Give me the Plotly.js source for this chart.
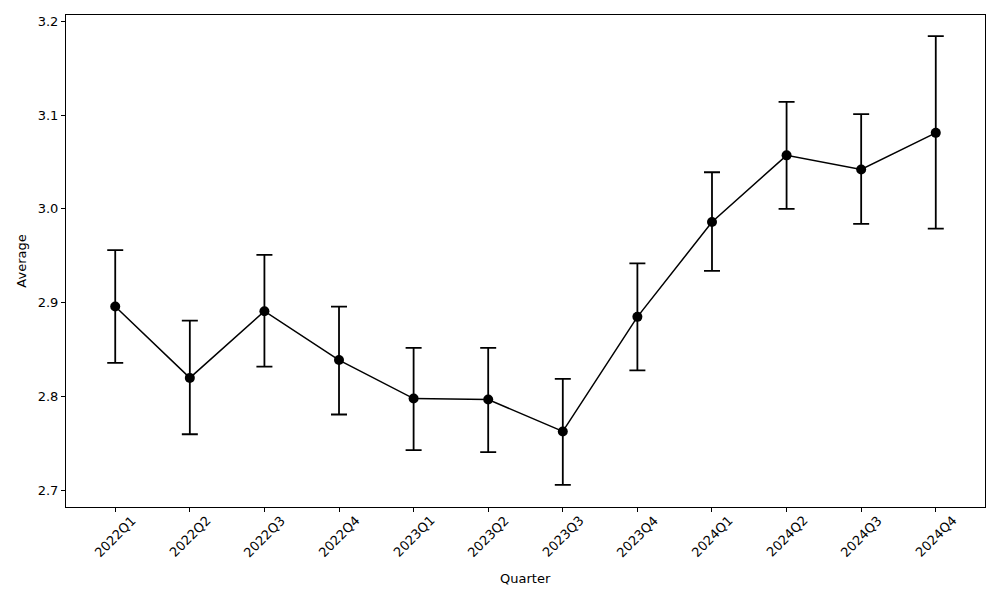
<!DOCTYPE html>
<html>
<head>
<meta charset="utf-8">
<script src="https://cdn.plot.ly/plotly-3.0.1.min.js"></script>
<style>html,body{margin:0;padding:0;background:#fff;}#chart{width:1000px;height:600px;}</style>
</head>
<body>
<div id="chart"></div>
<script>
const quarters = ["2022Q1","2022Q2","2022Q3","2022Q4","2023Q1","2023Q2","2023Q3","2023Q4","2024Q1","2024Q2","2024Q3","2024Q4"];
const averages = [2.896, 2.820, 2.891, 2.839, 2.798, 2.797, 2.763, 2.885, 2.986, 3.057, 3.042, 3.081];
const upperBounds = [2.956, 2.881, 2.951, 2.896, 2.852, 2.852, 2.819, 2.942, 3.039, 3.114, 3.101, 3.184];
const lowerBounds = [2.836, 2.760, 2.832, 2.781, 2.743, 2.741, 2.706, 2.828, 2.934, 3.000, 2.984, 2.979];

const errPlus = averages.map((v, i) => upperBounds[i] - v);
const errMinus = averages.map((v, i) => v - lowerBounds[i]);
const xIdx = quarters.map((q, i) => i);

const trace = {
  x: xIdx,
  y: averages,
  type: 'scatter',
  mode: 'lines+markers',
  line: {color: '#000', width: 1.5},
  marker: {color: '#000', size: 10},
  error_y: {
    type: 'data', symmetric: false,
    array: errPlus, arrayminus: errMinus,
    color: '#000', thickness: 1.8, width: 8
  },
  hoverinfo: 'x+y'
};

const font = {family: 'DejaVu Sans, sans-serif', size: 13, color: '#000'};

const tickAnnotations = quarters.map((q, i) => ({
  x: i, xref: 'x', y: 0, yref: 'paper',
  text: q, showarrow: false, textangle: -45,
  xanchor: 'center', yanchor: 'middle', yshift: -29,
  font: font
}));

const layout = {
  width: 1000, height: 600,
  margin: {l: 66, r: 15, t: 15, b: 93},
  paper_bgcolor: '#fff', plot_bgcolor: '#fff',
  font: font,
  showlegend: false,
  annotations: tickAnnotations.concat([{
    x: 0.5, xref: 'paper', y: 0, yref: 'paper',
    text: 'Quarter', showarrow: false,
    xanchor: 'center', yanchor: 'middle', yshift: -71,
    font: font
  }]),
  xaxis: {
    range: [-0.66, 11.66],
    tickmode: 'array',
    tickvals: xIdx,
    showticklabels: false,
    ticks: 'outside', ticklen: 4, tickwidth: 1, tickcolor: '#000',
    showgrid: false, zeroline: false,
    showline: true, linecolor: '#000', linewidth: 1, mirror: true
  },
  yaxis: {
    range: [2.6825, 3.2065],
    tickvals: [2.7, 2.8, 2.9, 3.0, 3.1, 3.2],
    ticktext: ['2.7','2.8','2.9','3.0','3.1','3.2'],
    ticks: 'outside', ticklen: 4, tickwidth: 1, tickcolor: '#000',
    showgrid: false, zeroline: false,
    showline: true, linecolor: '#000', linewidth: 1, mirror: true,
    title: {text: 'Average', font: font, standoff: 8},
    tickfont: font
  }
};

Plotly.newPlot('chart', [trace], layout, {displayModeBar: false, staticPlot: true});
</script>
</body>
</html>
